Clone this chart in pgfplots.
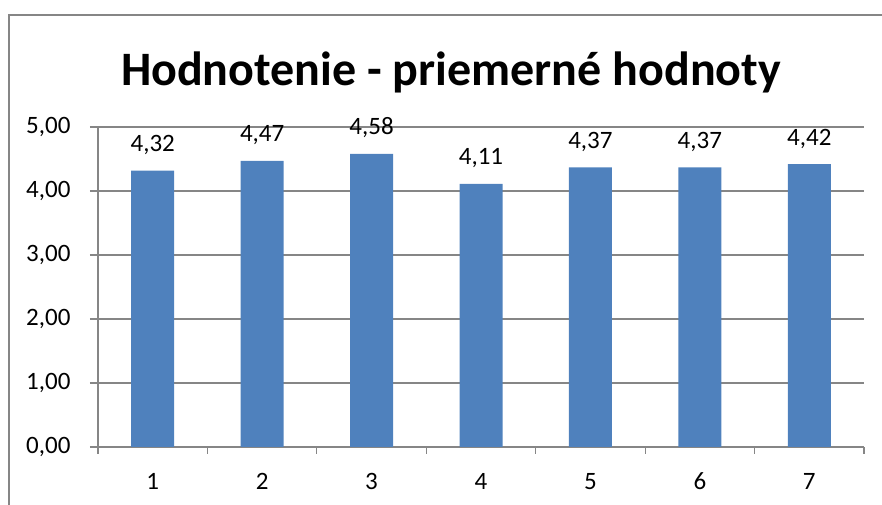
\documentclass[border=0pt]{standalone}
\usepackage{pgfplots}
\pgfplotsset{compat=1.18}
\usepackage{fontspec}
\setmainfont{Carlito}
\definecolor{barblue}{HTML}{4F81BD}
\definecolor{linegray}{HTML}{868686}

\begin{document}
\begin{tikzpicture}[x=1pt,y=1pt]
  \useasboundingbox (0,0) rectangle (882,505);
  % outer chart border (only left and top are in the frame)
  \draw[linegray, line width=1.5pt] (9,-5) -- (9,490) -- (887,490);
  \node[font=\fontsize{48}{56}\selectfont\bfseries, anchor=base] at (451,419) {Hodnotenie - priemerné hodnoty};
  \begin{axis}[
      at={(98pt,58pt)}, anchor=south west,
      scale only axis, width=766pt, height=320pt,
      xmin=0.5, xmax=7.5, ymin=0, ymax=5,
      axis lines*=left,
      axis line style={linegray, line width=1.2pt},
      xtick={1,...,7},
      minor xtick={0.5,1.5,...,7.5},
      ytick={0,1,...,5},
      tick align=outside,
      major tick length=8pt,
      minor tick length=7pt,
      every major x tick/.style={draw=none},
      every minor x tick/.style={draw=linegray, line width=1.2pt},
      ytick style={draw=linegray, line width=1.2pt},
      ymajorgrids,
      grid style={linegray, line width=1.2pt},
      tick label style={font=\fontsize{25}{30}\selectfont},
      /pgf/number format/assume math mode=true,
      yticklabel style={xshift=-16pt, /pgf/number format/.cd, fixed, fixed zerofill, precision=2, use comma},
      xticklabel style={anchor=base, yshift=-35pt},
      nodes near coords,
      nodes near coords style={font=\fontsize{25}{30}\selectfont, anchor=base, yshift=19pt,
        /pgf/number format/.cd, fixed, fixed zerofill, precision=2, use comma, assume math mode=true},
    ]
    \addplot[ybar, bar width=43pt, fill=barblue, draw=none] coordinates {
      (1,4.32) (2,4.47) (3,4.58) (4,4.11) (5,4.37) (6,4.37) (7,4.42)
    };
  \end{axis}
\end{tikzpicture}
\end{document}
